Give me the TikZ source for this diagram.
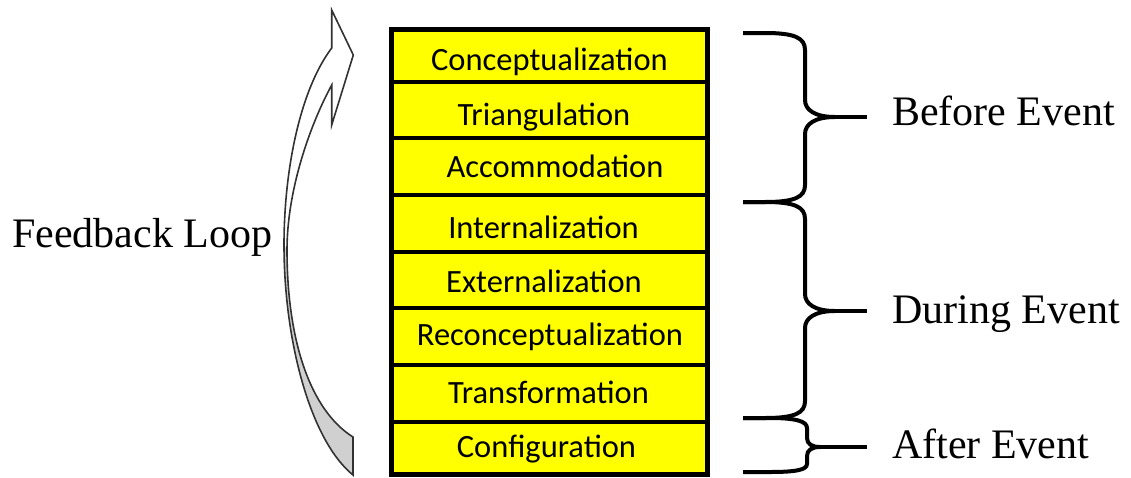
\documentclass[tikz,border=0pt]{standalone}
\usepackage{fontspec}
\setmainfont{Liberation Serif}
\newfontfamily\boxfont{Carlito}
\definecolor{boxyellow}{RGB}{255,255,0}
\definecolor{arrowgray}{RGB}{208,208,208}
\definecolor{arrowline}{RGB}{50,50,50}
\begin{document}
\begin{tikzpicture}[x=1pt,y=-1pt,
  rowbox/.style={draw=black, fill=boxyellow, line width=4pt, inner sep=0pt, outer sep=0pt, minimum width=315.8pt},
  rowtext/.style={anchor=base, inner sep=0pt, font=\boxfont\fontsize{32.5}{36}\selectfont},
  sidelabel/.style={anchor=base west, inner sep=0pt, font=\fontsize{42}{48}\selectfont},
  bracestyle/.style={draw=black, line width=4pt, line join=round},
  loopline/.style={draw=arrowline, line width=1.6pt, line join=miter}]
\useasboundingbox (0,0) rectangle (1131,477);
% stack of rows
\node[rowbox, minimum height=52.4pt] (r1) at (549.6,55.5) {};
\node[rowbox, minimum height=56.6pt] (r2) at (549.6,110) {};
\node[rowbox, minimum height=56.7pt] (r3) at (549.6,166.65) {};
\node[rowbox, minimum height=56.7pt] (r4) at (549.6,223.35) {};
\node[rowbox, minimum height=56.6pt] (r5) at (549.6,280) {};
\node[rowbox, minimum height=56.7pt] (r6) at (549.6,336.65) {};
\node[rowbox, minimum height=56.7pt] (r7) at (549.6,393.35) {};
\node[rowbox, minimum height=52.3pt] (r8) at (549.6,447.85) {};
\draw[line width=5pt] (r1.north west) rectangle (r8.south east);
% row texts
\node[rowtext] (t1) at (549.5,70) {Conceptualization};
\node[rowtext] (t2) at (544,125) {Triangulation};
\node[rowtext] (t3) at (555,177) {Accommodation};
\node[rowtext] (t4) at (543.5,238) {Internalization};
\node[rowtext] (t5) at (544,292) {Externalization};
\node[rowtext] (t6) at (550,345) {Reconceptualization};
\node[rowtext] (t7) at (548.5,403) {Transformation};
\node[rowtext] (t8) at (546.5,457) {Configuration};
% feedback arrow
\fill[white] (353,475) .. controls (310,440) and (284,340) .. (284,245)
  .. controls (284,170) and (300,90) .. (331.7,48) -- (331.7,10) -- (353.3,55)
  -- (331.7,125) -- (331.7,85) .. controls (310,125) and (287,190) .. (287,250)
  .. controls (287,340) and (310,410) .. (353,437) -- cycle;
\fill[arrowgray] (284,245) .. controls (284,340) and (310,440) .. (353,475)
  -- (353,437) .. controls (310,410) and (287,340) .. (287,250) -- cycle;
\draw[loopline] (353,475) .. controls (310,440) and (284,340) .. (284,245)
  .. controls (284,170) and (300,90) .. (331.7,48) -- (331.7,10) -- (353.3,55)
  -- (331.7,125) -- (331.7,85) .. controls (310,125) and (287,190) .. (287,250)
  .. controls (287,340) and (310,410) .. (353,437) -- cycle;
% braces
\coordinate (b1) at (835,117);
\coordinate (b1e) at (867,117);
\coordinate (b2) at (835,311);
\coordinate (b2e) at (867,311);
\coordinate (b3) at (820,447);
\coordinate (b3e) at (867,447);
\draw[bracestyle] (743,33) -- (765,33) .. controls (795,33) and (805,38) .. (805,50)
  -- (805,100) .. controls (805,110) and (815,117) .. (b1)
  .. controls (815,117) and (805,124) .. (805,134)
  -- (805,185) .. controls (805,197) and (795,202) .. (765,202) -- (743,202);
\draw[bracestyle] (b1) -- (b1e);
\draw[bracestyle] (743,202) -- (765,202) .. controls (795,202) and (805,207) .. (805,219)
  -- (805,294) .. controls (805,304) and (815,311) .. (b2)
  .. controls (815,311) and (805,318) .. (805,328)
  -- (805,401) .. controls (805,413) and (795,418) .. (765,418) -- (743,418);
\draw[bracestyle] (b2) -- (b2e);
\draw[bracestyle] (743,418) -- (770,418) .. controls (795,418) and (807,421) .. (807,428)
  -- (807,438) .. controls (807,444) and (812,447) .. (b3)
  .. controls (812,447) and (807,450) .. (807,456)
  -- (807,464) .. controls (807,470) and (795,472) .. (770,472) -- (743,472);
\draw[bracestyle] (b3) -- (b3e);
% labels
\node[sidelabel] (before) at (892,125) {Before Event};
\node[sidelabel] (during) at (892,323) {During Event};
\node[sidelabel] (after) at (892,458) {After Event};
\node[sidelabel] (loop) at (12,247) {Feedback Loop};
\end{tikzpicture}
\end{document}
